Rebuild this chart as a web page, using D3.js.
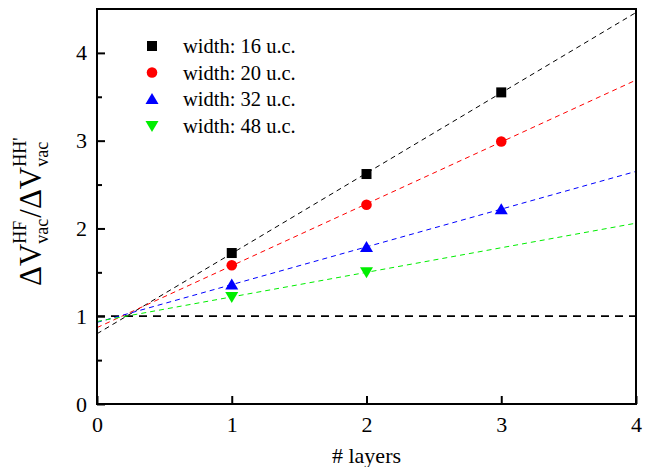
<!DOCTYPE html>
<html><head><meta charset="utf-8">
<script src="https://cdn.jsdelivr.net/npm/d3@7"></script>
<style>body{margin:0;background:#fff}svg{display:block}</style>
</head><body><svg id="c" width="646" height="467"></svg>
<script>
// ---- data ----
const seriesNames = ["width: 16 u.c.", "width: 20 u.c.", "width: 32 u.c.", "width: 48 u.c."];
const seriesColors = ["#000000", "#ff0000", "#0000ff", "#00ee00"];
const seriesSymbols = ["square", "circle", "triangle", "triangleDown"];
const layers16 = [1, 2, 3], values16 = [1.72, 2.62, 3.55];
const layers20 = [1, 2, 3], values20 = [1.58, 2.27, 2.99];
const layers32 = [1, 2, 3], values32 = [1.36, 1.79, 2.22];
const layers48 = [1, 2],    values48 = [1.22, 1.50];
// fitted dashed lines read at x=0 and x=4
const fitX = [0, 4];
const fit16 = [0.80, 4.46];
const fit20 = [0.87, 3.69];
const fit32 = [0.93, 2.65];
const fit48 = [0.94, 2.06];
const refLineY = 1;
const xTicks = [0, 1, 2, 3, 4];
const yTicks = [0, 1, 2, 3, 4];
const yMinorTicks = [0.5, 1.5, 2.5, 3.5];

const FONT = "'Liberation Serif', Tinos, 'Times New Roman', 'DejaVu Serif', serif";

const series = [
  {x: layers16, y: values16, fit: fit16},
  {x: layers20, y: values20, fit: fit20},
  {x: layers32, y: values32, fit: fit32},
  {x: layers48, y: values48, fit: fit48}
];

const svg = d3.select("#c");
const L = 97, R = 636, T = 9, B = 404;
const x = d3.scaleLinear().domain([0, 4]).range([L, R]);
const y = d3.scaleLinear().domain([0, 4.5]).range([B, T]);

svg.append("line").attr("x1", x(0)).attr("x2", x(4)).attr("y1", y(refLineY)).attr("y2", y(refLineY))
  .attr("stroke", "#000").attr("stroke-width", 1.8).attr("stroke-dasharray", "8,6");

const lineGen = d3.line().x(d => x(d[0])).y(d => y(d[1]));
series.forEach((s, i) => {
  svg.append("path").datum(fitX.map((v, k) => [v, s.fit[k]]))
    .attr("d", lineGen).attr("fill", "none").attr("stroke", seriesColors[i])
    .attr("stroke-width", 1).attr("stroke-dasharray", "5,4");
});

function sym(g, type, color, cx, cy) {
  if (type === "square") g.append("rect").attr("x", cx - 5).attr("y", cy - 5).attr("width", 10).attr("height", 10).attr("fill", color);
  else if (type === "circle") g.append("circle").attr("cx", cx).attr("cy", cy).attr("r", 5.3).attr("fill", color);
  else if (type === "triangle") g.append("path").attr("d", `M${cx},${cy-6}L${cx+6.5},${cy+5}L${cx-6.5},${cy+5}Z`).attr("fill", color);
  else g.append("path").attr("d", `M${cx},${cy+6}L${cx+6.5},${cy-5}L${cx-6.5},${cy-5}Z`).attr("fill", color);
}
series.forEach((s, i) => {
  const g = svg.append("g");
  s.x.forEach((xv, k) => sym(g, seriesSymbols[i], seriesColors[i], x(xv), y(s.y[k])));
});

svg.append("rect").attr("x", L).attr("y", T).attr("width", R - L).attr("height", B - T)
  .attr("fill", "none").attr("stroke", "#000").attr("stroke-width", 2);

const xAxis = d3.axisBottom(x).tickValues(xTicks).tickSize(-8).tickPadding(12).tickFormat(d3.format("d"));
const gx = svg.append("g").attr("transform", `translate(0,${B})`).call(xAxis);
const yAxis = d3.axisLeft(y).tickValues(yTicks).tickSize(-8).tickPadding(10).tickFormat(d3.format("d"));
const gy = svg.append("g").attr("transform", `translate(${L},0)`).call(yAxis);
const gym = svg.append("g").attr("transform", `translate(${L},0)`).call(d3.axisLeft(y).tickValues(yMinorTicks).tickSize(-5).tickFormat(""));
[gx, gy, gym].forEach(g => {
  g.attr("font-family", null);
  g.select(".domain").remove();
  g.selectAll(".tick line").attr("stroke", "#000").attr("stroke-width", 2);
  g.selectAll("text").style("font-size", "22px").style("font-family", FONT).attr("fill", "#000");
});

svg.append("text").attr("x", x(2)).attr("y", 463).attr("text-anchor", "middle")
  .style("font-family", FONT).style("font-size", "22px").text("# layers");

const yl = svg.append("g").attr("transform", "translate(41,286) rotate(-90)");
let cx = 0;
function piece(txt, size, dy, adv) {
  const t = yl.append("text").attr("x", cx).attr("y", dy).style("font-family", FONT).style("font-size", size + "px").text(txt);
  const w = t.node().getComputedTextLength();
  if (adv) cx += w;
  return w;
}
function stack(sup, sub) {
  const w1 = piece(sup, 18, -15, false);
  const w2 = piece(sub, 18, 7, false);
  cx += Math.max(w1, w2) + 1;
}
piece("ΔV", 31, 0, true);
stack("HF", "vac");
piece("/", 31, 0, true);
piece("ΔV", 31, 0, true);
stack("HH'", "vac");

const legX = 152, legTx = 183, legY = [46, 72.5, 99, 126];
seriesNames.forEach((n, i) => {
  sym(svg, seriesSymbols[i], seriesColors[i], legX, legY[i]);
  svg.append("text").attr("x", legTx).attr("y", legY[i] + 7).style("font-family", FONT).style("font-size", "20.5px").text(n);
});
</script></body></html>
